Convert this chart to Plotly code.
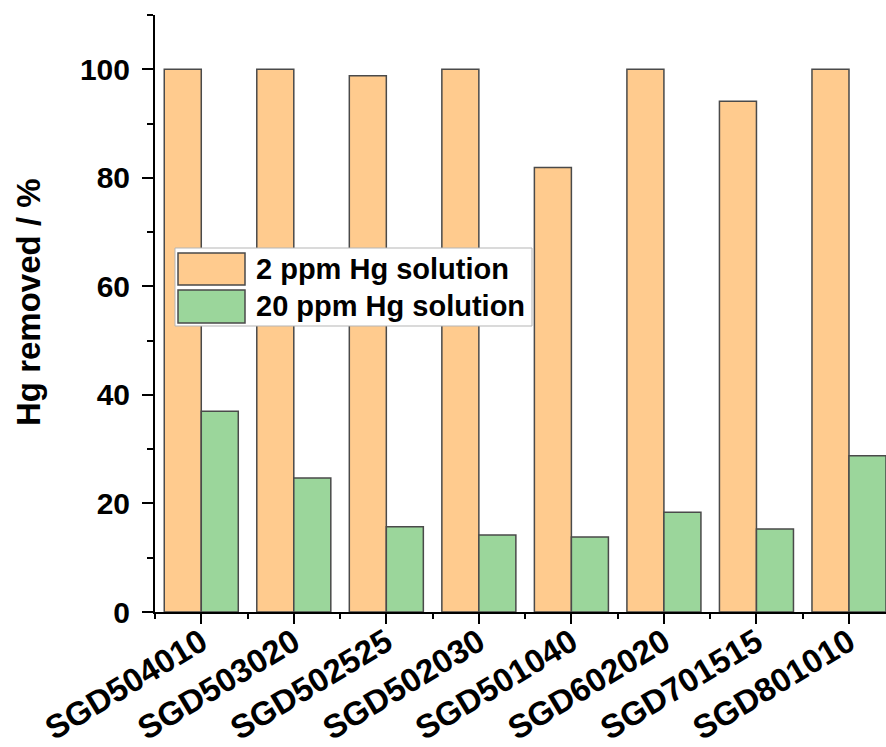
import plotly.graph_objects as go

# Mercury removal for each sorbent composition
samples = ["SGD504010", "SGD503020", "SGD502525", "SGD502030",
           "SGD501040", "SGD602020", "SGD701515", "SGD801010"]
removed_2ppm = [100, 100, 98.8, 100, 81.9, 100, 94.1, 100]
removed_20ppm = [37.0, 24.7, 15.7, 14.2, 13.8, 18.4, 15.3, 28.8]
series_names = ["2 ppm Hg solution", "20 ppm Hg solution"]
y_ticks = [0, 20, 40, 60, 80, 100]

ORANGE = "#FFCB8E"
GREEN = "#9BD69B"
EDGE = "#4a4a4a"
FONT = "Arial, Liberation Sans, Helvetica, sans-serif"

W, H = 886, 747
M_L, M_R, M_T, M_B = 155, 0, 15, 135
PW, PH = W - M_L - M_R, H - M_T - M_B

xpos = list(range(len(samples)))

fig = go.Figure()
fig.add_trace(go.Bar(x=xpos, y=removed_2ppm, name=series_names[0],
                     marker=dict(color=ORANGE, line=dict(color=EDGE, width=1.5)),
                     showlegend=False))
fig.add_trace(go.Bar(x=xpos, y=removed_20ppm, name=series_names[1],
                     marker=dict(color=GREEN, line=dict(color=EDGE, width=1.5)),
                     showlegend=False))


def px_x(px):
    return (px - M_L) / PW


def px_y(py):
    return (H - M_B - py) / PH


# Legend box drawn with large swatches
fig.add_shape(type="rect", xref="paper", yref="paper",
              x0=px_x(175), x1=px_x(532), y0=px_y(326), y1=px_y(248),
              fillcolor="white", line=dict(color="#b5b5b5", width=1), layer="above")
rows = [(253, 285, 269, ORANGE), (290, 323, 306, GREEN)]
for (top, bot, mid, col), label in zip(rows, series_names):
    fig.add_shape(type="rect", xref="paper", yref="paper",
                  x0=px_x(178), x1=px_x(245), y0=px_y(bot), y1=px_y(top),
                  fillcolor=col, line=dict(color=EDGE, width=1.5), layer="above")
    fig.add_annotation(xref="paper", yref="paper", x=px_x(254), y=px_y(mid),
                       text=label, showarrow=False, xanchor="left", yanchor="middle",
                       font=dict(family=FONT, size=29, color="black", weight="bold"))

# Y axis title
fig.add_annotation(xref="paper", yref="paper", x=px_x(28), y=px_y(302),
                   text="Hg removed / %", textangle=-90, showarrow=False,
                   xanchor="center", yanchor="middle",
                   font=dict(family=FONT, size=33, color="black", weight="bold"))

fig.update_layout(
    width=W, height=H,
    margin=dict(l=M_L, r=M_R, t=M_T, b=M_B, pad=0, autoexpand=False),
    paper_bgcolor="white", plot_bgcolor="white",
    barmode="group", bargap=0.2, bargroupgap=0,
    showlegend=False,
    xaxis=dict(
        range=[-0.5, 7.4], automargin=False,
        tickmode="array", tickvals=xpos, ticktext=samples,
        tickangle=-31,
        tickfont=dict(family=FONT, size=33, color="black", weight="bold"),
        ticklabelstandoff=-14,
        showline=True, linecolor="black", linewidth=2,
        ticks="outside", ticklen=10, tickwidth=2, tickcolor="black",
        minor=dict(tickmode="array", tickvals=[i - 0.5 for i in xpos],
                   ticks="outside", ticklen=5, tickwidth=2, tickcolor="black"),
        showgrid=False, zeroline=False,
    ),
    yaxis=dict(
        range=[0, 110], automargin=False,
        tickmode="array", tickvals=y_ticks,
        tickfont=dict(family=FONT, size=30, color="black", weight="bold"),
        ticklabelstandoff=6,
        showline=True, linecolor="black", linewidth=2,
        ticks="outside", ticklen=11, tickwidth=2, tickcolor="black",
        minor=dict(tickmode="linear", tick0=10, dtick=20,
                   ticks="outside", ticklen=6, tickwidth=2, tickcolor="black"),
        showgrid=False, zeroline=False,
    ),
)

fig.write_html("out.html")
